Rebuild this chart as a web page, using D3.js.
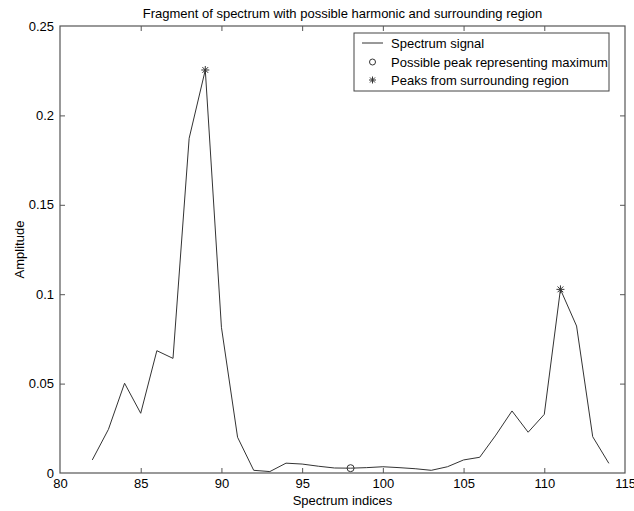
<!DOCTYPE html>
<html>
<head>
<meta charset="utf-8">
<script src="https://cdn.jsdelivr.net/npm/d3@7"></script>
<style>
  body { margin: 0; background: #fff; }
  text { font-family: "Liberation Sans", Arial, sans-serif; fill: #000; }
</style>
</head>
<body>
<div id="chart"></div>
<script>
// spectrum fragment
var indices = [82, 83, 84, 85, 86, 87, 88, 89, 90, 91, 92, 93, 94, 95, 96, 97, 98,
               99, 100, 101, 102, 103, 104, 105, 106, 107, 108, 109, 110, 111, 112, 113, 114];
var amplitude = [0.0073, 0.0244, 0.0502, 0.0334, 0.0684, 0.0641, 0.1872, 0.2254, 0.0815, 0.0200,
                 0.0015, 0.0008, 0.0055, 0.0050, 0.0038, 0.0028, 0.0027, 0.0030, 0.0035, 0.0030,
                 0.0024, 0.0015, 0.0035, 0.0073, 0.0088, 0.0212, 0.0347, 0.0228, 0.0328, 0.1027,
                 0.0822, 0.0203, 0.0054];
var maxPeakIdx = [98];
var regionPeakIdx = [89, 111];
var xTicks = [80, 85, 90, 95, 100, 105, 110, 115];
var yTicks = [0, 0.05, 0.1, 0.15, 0.2, 0.25];
var legendLabels = ["Spectrum signal", "Possible peak representing maximum", "Peaks from surrounding region"];

var data = indices.map(function (d, i) { return { x: d, y: amplitude[i] }; });
function valueAt(ix) { return amplitude[indices.indexOf(ix)]; }

var svg = d3.select("#chart")
    .append("svg")
    .attr("width", 634)
    .attr("height", 511);

var margin = { top: 26, right: 9, bottom: 38, left: 60 },
    width = 634 - margin.left - margin.right,
    height = 511 - margin.top - margin.bottom;

var x = d3.scaleLinear().domain([80, 115]).range([0, width]);
var y = d3.scaleLinear().domain([0, 0.25]).range([height, 0]);

var g = svg.append("g")
    .attr("transform", "translate(" + margin.left + "," + margin.top + ")");

var axisColor = "#555";
var tl = 5;

// axes, ticks pointing in, on all four sides (box)
var xAxis = g.append("g")
    .attr("transform", "translate(0," + height + ")")
    .call(d3.axisBottom(x).tickValues(xTicks).tickSizeInner(-tl).tickSizeOuter(0).tickPadding(6).tickFormat(d3.format("d")));
var xTop = g.append("g")
    .call(d3.axisTop(x).tickValues(xTicks).tickSizeInner(-tl).tickSizeOuter(0).tickFormat(""));
var yAxis = g.append("g")
    .call(d3.axisLeft(y).tickValues(yTicks).tickSizeInner(-tl).tickSizeOuter(0).tickPadding(6)
        .tickFormat(function (d) { return d === 0 ? "0" : d3.format("")(+d.toFixed(2)); }));
var yRight = g.append("g")
    .attr("transform", "translate(" + width + ",0)")
    .call(d3.axisRight(y).tickValues(yTicks).tickSizeInner(-tl).tickSizeOuter(0).tickFormat(""));

[xAxis, xTop, yAxis, yRight].forEach(function (a) {
    a.selectAll("path, line").attr("stroke", axisColor);
    a.selectAll("text").style("font-size", "13px").attr("fill", "#000");
    a.select(".domain").remove();
});
// drop ticks at the box corners
xAxis.selectAll(".tick line").filter(function (d) { return d === 80 || d === 115; }).remove();
xTop.selectAll(".tick line").filter(function (d) { return d === 80 || d === 115; }).remove();
yAxis.selectAll(".tick line").filter(function (d) { return d === 0 || d === 0.25; }).remove();
yRight.selectAll(".tick line").filter(function (d) { return d === 0 || d === 0.25; }).remove();

g.append("rect")
    .attr("width", width)
    .attr("height", height)
    .attr("fill", "none")
    .attr("stroke", axisColor)
    .attr("stroke-width", 1.2);

// signal
var line = d3.line()
    .x(function (d) { return x(d.x); })
    .y(function (d) { return y(d.y); });

g.append("path")
    .datum(data)
    .attr("fill", "none")
    .attr("stroke", "#333")
    .attr("stroke-width", 1)
    .attr("d", line);

// asterisk marker
function star(sel, cx, cy, r) {
    var s = sel.append("g").attr("transform", "translate(" + cx + "," + cy + ")")
        .attr("stroke", "#333").attr("stroke-width", 1);
    s.append("line").attr("x1", -r).attr("x2", r).attr("y1", 0).attr("y2", 0);
    s.append("line").attr("x1", 0).attr("x2", 0).attr("y1", -r).attr("y2", r);
    var k = r * 0.72;
    s.append("line").attr("x1", -k).attr("x2", k).attr("y1", -k).attr("y2", k);
    s.append("line").attr("x1", -k).attr("x2", k).attr("y1", k).attr("y2", -k);
}

regionPeakIdx.forEach(function (ix) { star(g, x(ix), y(valueAt(ix)), 4); });

g.selectAll(".maxpeak")
    .data(maxPeakIdx)
    .enter().append("circle")
    .attr("class", "maxpeak")
    .attr("cx", function (d) { return x(d); })
    .attr("cy", function (d) { return y(valueAt(d)); })
    .attr("r", 3.5)
    .attr("fill", "none")
    .attr("stroke", "#333");

// titles
svg.append("text")
    .attr("x", margin.left + width / 2)
    .attr("y", 18)
    .attr("text-anchor", "middle")
    .style("font-size", "13px")
    .text("Fragment of spectrum with possible harmonic and surrounding region");

svg.append("text")
    .attr("x", margin.left + width / 2)
    .attr("y", 505)
    .attr("text-anchor", "middle")
    .style("font-size", "13px")
    .text("Spectrum indices");

svg.append("text")
    .attr("transform", "translate(24," + (margin.top + height / 2) + ") rotate(-90)")
    .attr("text-anchor", "middle")
    .style("font-size", "13px")
    .text("Amplitude");

// legend
var lg = svg.append("g").attr("transform", "translate(354,33)");
lg.append("rect")
    .attr("width", 255)
    .attr("height", 58)
    .attr("fill", "#fff")
    .attr("stroke", "#444");

var rowY = [10, 29, 47];
lg.append("line")
    .attr("x1", 8).attr("x2", 29)
    .attr("y1", rowY[0]).attr("y2", rowY[0])
    .attr("stroke", "#333");
lg.append("circle")
    .attr("cx", 18.5).attr("cy", rowY[1]).attr("r", 3)
    .attr("fill", "none").attr("stroke", "#333");
star(lg, 18.5, rowY[2], 3.5);

lg.selectAll(".lt")
    .data(legendLabels)
    .enter().append("text")
    .attr("class", "lt")
    .attr("x", 37)
    .attr("y", function (d, i) { return rowY[i]; })
    .attr("dy", "0.35em")
    .style("font-size", "13px")
    .text(function (d) { return d; });
</script>
</body>
</html>
